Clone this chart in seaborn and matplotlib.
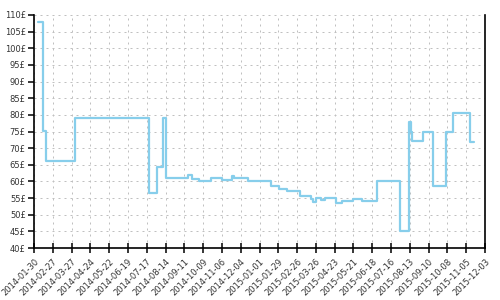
import matplotlib
matplotlib.use("Agg")
import matplotlib.pyplot as plt
import seaborn as sns
import pandas as pd

dates = ["2014-02-05", "2014-02-13", "2014-02-17", "2014-04-01", "2014-07-20",
         "2014-08-02", "2014-08-10", "2014-08-14", "2014-09-17", "2014-09-22",
         "2014-10-03", "2014-10-21", "2014-11-06", "2014-11-21", "2014-11-24",
         "2014-12-15", "2015-01-18", "2015-01-30", "2015-02-11", "2015-03-03",
         "2015-03-18", "2015-03-21", "2015-03-26", "2015-04-03", "2015-04-09",
         "2015-04-25", "2015-05-04", "2015-05-20", "2015-06-02", "2015-06-25",
         "2015-07-29", "2015-08-12", "2015-08-15", "2015-08-16", "2015-09-02",
         "2015-09-17", "2015-10-06", "2015-10-16", "2015-11-11", "2015-11-17"]
prices = [107.9, 75.3, 66.1, 79.1, 56.6,
          64.4, 79.1, 61.1, 62.0, 60.7,
          60.3, 61.0, 60.5, 61.6, 61.0,
          60.3, 58.7, 57.7, 57.1, 55.7,
          54.6, 53.8, 55.1, 54.4, 55.1,
          53.6, 54.2, 54.8, 54.0, 60.2,
          45.2, 77.8, 74.8, 72.2, 74.9,
          58.6, 74.8, 80.6, 71.8, 71.8]
y_ticks = [40, 45, 50, 55, 60, 65, 70, 75, 80, 85, 90, 95, 100, 105, 110]

df = pd.DataFrame({"date": pd.to_datetime(dates), "price": prices})

sns.set_style("white")
plt.rcParams['font.family'] = ['DejaVu Sans']

fig = plt.figure(figsize=(5, 3), dpi=100)
ax = fig.add_axes([0.068, 0.173, 0.902, 0.777])

sns.lineplot(data=df, x="date", y="price", ax=ax, drawstyle="steps-post",
             color="#87CEEB", linewidth=1.6, estimator=None)

start = pd.Timestamp("2014-01-30")
end = pd.Timestamp("2015-12-03")
xt = pd.date_range(start, end, freq="28D")
ax.set_xlim(start, end)
ax.set_xticks(xt)
ax.set_xticklabels([d.strftime("%Y-%m-%d") for d in xt], rotation=45,
                   ha="right", rotation_mode="anchor", fontsize=6.0, color="#333333")
ax.set_ylim(40, 110)
ax.set_yticks(y_ticks)
ax.set_yticklabels([f"{v}£" for v in y_ticks], fontsize=6.0, color="#333333")

ax.grid(True, color="#c0c0c0", linestyle=(0, (2, 4)), linewidth=0.72)
ax.set_axisbelow(True)
ax.set_xlabel("")
ax.set_ylabel("")
for s in ["left", "bottom", "right"]:
    ax.spines[s].set_visible(True)
    ax.spines[s].set_color("black")
    ax.spines[s].set_linewidth(1.2)
ax.spines["top"].set_visible(False)
ax.tick_params(axis="y", left=True, direction="out", length=4, width=1.1,
               color="black", pad=2)
ax.tick_params(axis="x", bottom=True, direction="inout", length=7, width=1.1,
               color="black", pad=3)

fig.savefig("out.png", dpi=100)
